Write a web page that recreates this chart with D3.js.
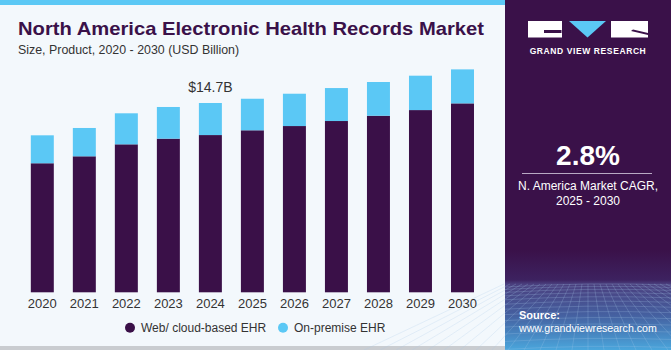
<!DOCTYPE html>
<html lang="en">
  <head>
    <meta charset="UTF-8" />
    <title>North America EHR Market</title>
    <style>
      body { margin: 0; background: #f3f8fc; }
      svg { display: block; font-family: "Liberation Sans", Arial, sans-serif; }
    </style>
  </head>
  <body>
    <div id="chart"></div>

    <script src="https://cdn.jsdelivr.net/npm/d3@7"></script>
    <script>
      // data (USD billion)
      var years = ["2020","2021","2022","2023","2024","2025","2026","2027","2028","2029","2030"];
      var webCloud = [10.02, 10.56, 11.49, 11.93, 12.21, 12.58, 12.91, 13.30, 13.71, 14.15, 14.67];
      var onPremise = [2.17, 2.20, 2.41, 2.46, 2.49, 2.45, 2.51, 2.56, 2.62, 2.67, 2.64];
      var seriesNames = ["Web/ cloud-based EHR", "On-premise EHR"];
      var seriesColors = ["#3a1048", "#5bc8f5"];
      var labelYear = "2024";
      var labelText = "$14.7B";

      var width = 671;
      var height = 350;
      var panelX = 505;
      var baseY = 292.3;

      var svg = d3.select("#chart")
                  .append("svg")
                  .attr("width", width)
                  .attr("height", height);

      var defs = svg.append("defs");
      var grad = defs.append("linearGradient")
                     .attr("id", "srcGrad")
                     .attr("x1", 0).attr("y1", 0).attr("x2", 0).attr("y2", 1);
      grad.append("stop").attr("offset", "0%").attr("stop-color", "#3a1149");
      grad.append("stop").attr("offset", "30%").attr("stop-color", "#3d2260");
      grad.append("stop").attr("offset", "34%").attr("stop-color", "#4a3f7e");
      grad.append("stop").attr("offset", "65%").attr("stop-color", "#4560a0");
      grad.append("stop").attr("offset", "100%").attr("stop-color", "#4aa6dc");

      // background + frame
      svg.append("rect").attr("width", width).attr("height", height).attr("fill", "#f3f8fc");
      svg.append("rect").attr("x", 0).attr("y", 0).attr("width", panelX).attr("height", 5).attr("fill", "#5bc8f5");
      svg.append("rect").attr("x", 0).attr("y", 346).attr("width", panelX).attr("height", 4).attr("fill", "#c9ccd0");

      // right panel
      svg.append("rect").attr("x", panelX).attr("y", 0).attr("width", width - panelX).attr("height", height).attr("fill", "#3a1149");
      svg.append("rect").attr("x", panelX).attr("y", 250).attr("width", width - panelX).attr("height", 100).attr("fill", "url(#srcGrad)");

      // perspective grid texture in the source box
      var grid = svg.append("g").attr("stroke", "#a9c8ec").attr("stroke-opacity", 0.3)
                    .attr("stroke-width", 0.8).attr("fill", "none");
      d3.range(0, 13).forEach(function(k){
        var y = 284 + k * 2.2 + k * k * 0.25;
        grid.append("path").attr("d", "M" + panelX + "," + (y + 3) + " Q588," + (y - 2) + " 671," + (y + 1));
      });
      d3.range(-14, 15).forEach(function(k){
        var x0 = 588 + k * 6;
        var x1 = 588 + k * 16;
        grid.append("path").attr("d", "M" + x0 + ",284 L" + x1 + ",350");
      });

      // logo
      var logo = svg.append("g");
      logo.append("rect").attr("x", 528).attr("y", 21).attr("width", 34).attr("height", 16.5).attr("fill", "#fff");
      logo.append("path").attr("d", "M544,30 L561.5,30 L561.5,33 L544,33 Z").attr("fill", "#3a1149");
      logo.append("path").attr("d", "M569,21 L606,21 L587.5,37.5 Z").attr("fill", "#5bc8f5");
      logo.append("rect").attr("x", 611).attr("y", 21).attr("width", 37).attr("height", 16.5).attr("fill", "#fff");
      logo.append("path").attr("d", "M631,31 L648,35 L648,33 L633,29.5 Z").attr("fill", "#3a1149");
      logo.append("text").attr("x", 588).attr("y", 53.5).attr("text-anchor", "middle")
          .attr("fill", "#fff").attr("font-size", 8.5).attr("font-weight", "bold")
          .attr("letter-spacing", 0.6).text("GRAND VIEW RESEARCH");

      // CAGR block
      svg.append("text").attr("x", 588).attr("y", 165).attr("text-anchor", "middle")
         .attr("fill", "#fff").attr("font-size", 28).attr("font-weight", "bold").text("2.8%");
      svg.append("line").attr("x1", 522).attr("x2", 652).attr("y1", 173.5).attr("y2", 173.5)
         .attr("stroke", "#b9a9c4").attr("stroke-width", 1);
      svg.append("text").attr("x", 588).attr("y", 189.5).attr("text-anchor", "middle")
         .attr("fill", "#fff").attr("font-size", 12).text("N. America Market CAGR,");
      svg.append("text").attr("x", 588).attr("y", 204.5).attr("text-anchor", "middle")
         .attr("fill", "#fff").attr("font-size", 12).text("2025 - 2030");

      // source
      svg.append("text").attr("x", 519).attr("y", 319).attr("fill", "#fff")
         .attr("font-size", 11).attr("font-weight", "bold").text("Source:");
      svg.append("text").attr("x", 519).attr("y", 332).attr("fill", "#fff")
         .attr("font-size", 10.6).text("www.grandviewresearch.com");

      // titles
      svg.append("text").attr("x", 18).attr("y", 35).attr("fill", "#3a1149")
         .attr("font-size", 19).attr("font-weight", "bold")
         .attr("textLength", 466).attr("lengthAdjust", "spacingAndGlyphs")
         .text("North America Electronic Health Records Market");
      svg.append("text").attr("x", 18).attr("y", 53.5).attr("fill", "#333")
         .attr("font-size", 12.4).text("Size, Product, 2020 - 2030 (USD Billion)");

      // scales
      var xScale = d3.scaleBand()
                     .domain(years)
                     .range([21.3, 483.5])
                     .paddingInner(0.453)
                     .paddingOuter(0.2265);
      var yScale = d3.scaleLinear()
                     .domain([0, 18])
                     .range([baseY, baseY - 12.878 * 18]);

      var rows = years.map(function(y, i){
        return { year: y, web: webCloud[i], prem: onPremise[i] };
      });
      var stacked = d3.stack().keys(["web", "prem"])(rows);

      svg.append("g")
         .selectAll("g")
         .data(stacked)
         .enter()
         .append("g")
         .attr("fill", function(d, i){ return seriesColors[i]; })
         .selectAll("rect")
         .data(function(d){ return d; })
         .enter()
         .append("rect")
         .attr("x", function(d){ return xScale(d.data.year); })
         .attr("width", xScale.bandwidth())
         .attr("y", function(d){ return yScale(d[1]); })
         .attr("height", function(d){ return yScale(d[0]) - yScale(d[1]); });

      // x axis
      var xAxis = d3.axisBottom(xScale).tickSize(0).tickPadding(6);
      var gx = svg.append("g")
                  .attr("transform", "translate(0," + baseY + ")")
                  .call(xAxis);
      gx.select(".domain").remove();
      gx.selectAll("text").attr("font-size", 13).attr("fill", "#333")
        .attr("font-family", "Liberation Sans, Arial, sans-serif");

      // value label
      var li = years.indexOf(labelYear);
      svg.append("text")
         .attr("x", xScale(labelYear) + xScale.bandwidth() / 2)
         .attr("y", yScale(webCloud[li] + onPremise[li]) - 10.5)
         .attr("text-anchor", "middle").attr("fill", "#333").attr("font-size", 14)
         .text(labelText);

      // legend
      var legendX = [130, 283];
      var legend = svg.append("g");
      seriesNames.forEach(function(name, i){
        legend.append("circle").attr("cx", legendX[i]).attr("cy", 327.7).attr("r", 5)
              .attr("fill", seriesColors[i]);
        legend.append("text").attr("x", legendX[i] + 11).attr("y", 332)
              .attr("font-size", 12).attr("fill", "#333").text(name);
      });
    </script>
  </body>
</html>
